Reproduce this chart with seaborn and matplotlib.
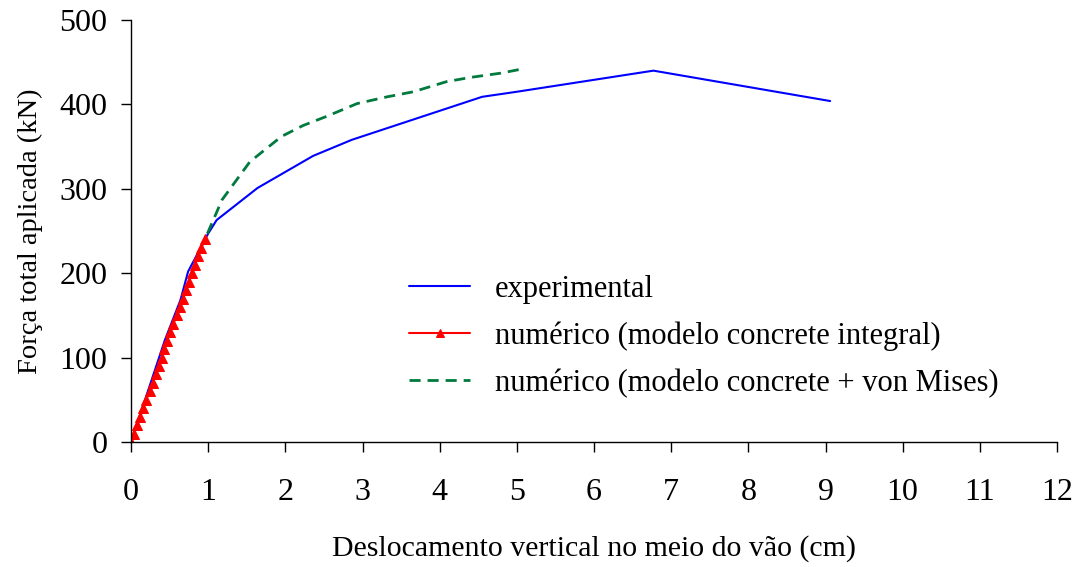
import numpy as np
import pandas as pd
import matplotlib
matplotlib.use("Agg")
import matplotlib.pyplot as plt
import seaborn as sns

# ── Data ─────────────────────────────────────────────────────
exp_x = [0.0, 0.44, 0.64, 0.74, 1.0, 1.11, 1.64, 2.36, 2.86, 4.55, 5.0, 6.77, 9.06]
exp_y = [0, 121, 168, 202, 247, 263, 301, 339, 358, 409, 415, 440, 404]

int_y = [0, 10, 20, 30, 40, 50, 60, 70, 80, 90, 100, 110, 120,
         130, 140, 150, 160, 170, 180, 190, 200, 210, 220, 230, 240]
int_x = [0.0, 0.04, 0.08, 0.12, 0.16, 0.20, 0.24, 0.28, 0.32, 0.36, 0.40, 0.43, 0.47,
         0.51, 0.55, 0.59, 0.63, 0.67, 0.71, 0.75, 0.79, 0.83, 0.87, 0.91, 0.96]

mis_x = [0.99, 1.18, 1.54, 1.95, 2.23, 2.54, 2.93, 3.32, 3.66, 4.09, 4.40, 4.79, 5.07]
mis_y = [247, 287, 332, 362, 375, 386, 401, 409, 415, 427, 432, 437, 442]

LBL_EXP = "experimental"
LBL_INT = "numérico (modelo concrete integral)"
LBL_MIS = "numérico (modelo concrete + von Mises)"

sns.set_theme(style="ticks")
plt.rcParams["font.family"] = ["Liberation Serif", "DejaVu Serif"]
plt.rcParams["text.color"] = "black"
plt.rcParams["axes.labelcolor"] = "black"

fig, ax = plt.subplots(figsize=(10.81, 5.67), dpi=100)
fig.subplots_adjust(left=0.1212, right=0.9778, bottom=0.2205, top=0.9647)

sns.lineplot(x=exp_x, y=exp_y, ax=ax, color="#0000FF", lw=1.5,
             sort=False, estimator=None, label=LBL_EXP)
sns.lineplot(x=int_x, y=int_y, ax=ax, color="#FF0000", lw=1.5,
             marker="^", markersize=7.5, markeredgecolor="#FF0000",
             sort=False, estimator=None, label=LBL_INT)
sns.lineplot(x=mis_x, y=mis_y, ax=ax, color="#007A3D", lw=2,
             sort=False, estimator=None, label=LBL_MIS)
ax.lines[-1].set_dashes((4, 2.5))

ax.set_xlim(0, 12)
ax.set_ylim(0, 500)
ax.set_xticks(range(0, 13))
ax.set_yticks(range(0, 501, 100))
ax.tick_params(axis="both", labelsize=23, length=7, width=1, color="black",
               labelcolor="black", direction="out")
ax.tick_params(axis="x", pad=19)
ax.tick_params(axis="y", pad=10)
for s in ("left", "bottom"):
    ax.spines[s].set_color("black")
    ax.spines[s].set_linewidth(1)
sns.despine(ax=ax)

ax.set_xlabel("Deslocamento vertical no meio do vão (cm)", fontsize=21.5, labelpad=20)
ax.set_ylabel("Força total aplicada (kN)", fontsize=20.5, labelpad=12)

leg = ax.legend(loc="upper left", bbox_to_anchor=(0.287, 0.425), frameon=False,
                fontsize=22, handlelength=2.0, handletextpad=0.8, labelspacing=0.58,
                borderaxespad=0, labelcolor="black")
leg.get_lines()[2].set_dashes((4, 2.5))
leg.get_lines()[1].set_markersize(6)

fig.savefig("out.png", dpi=100)
